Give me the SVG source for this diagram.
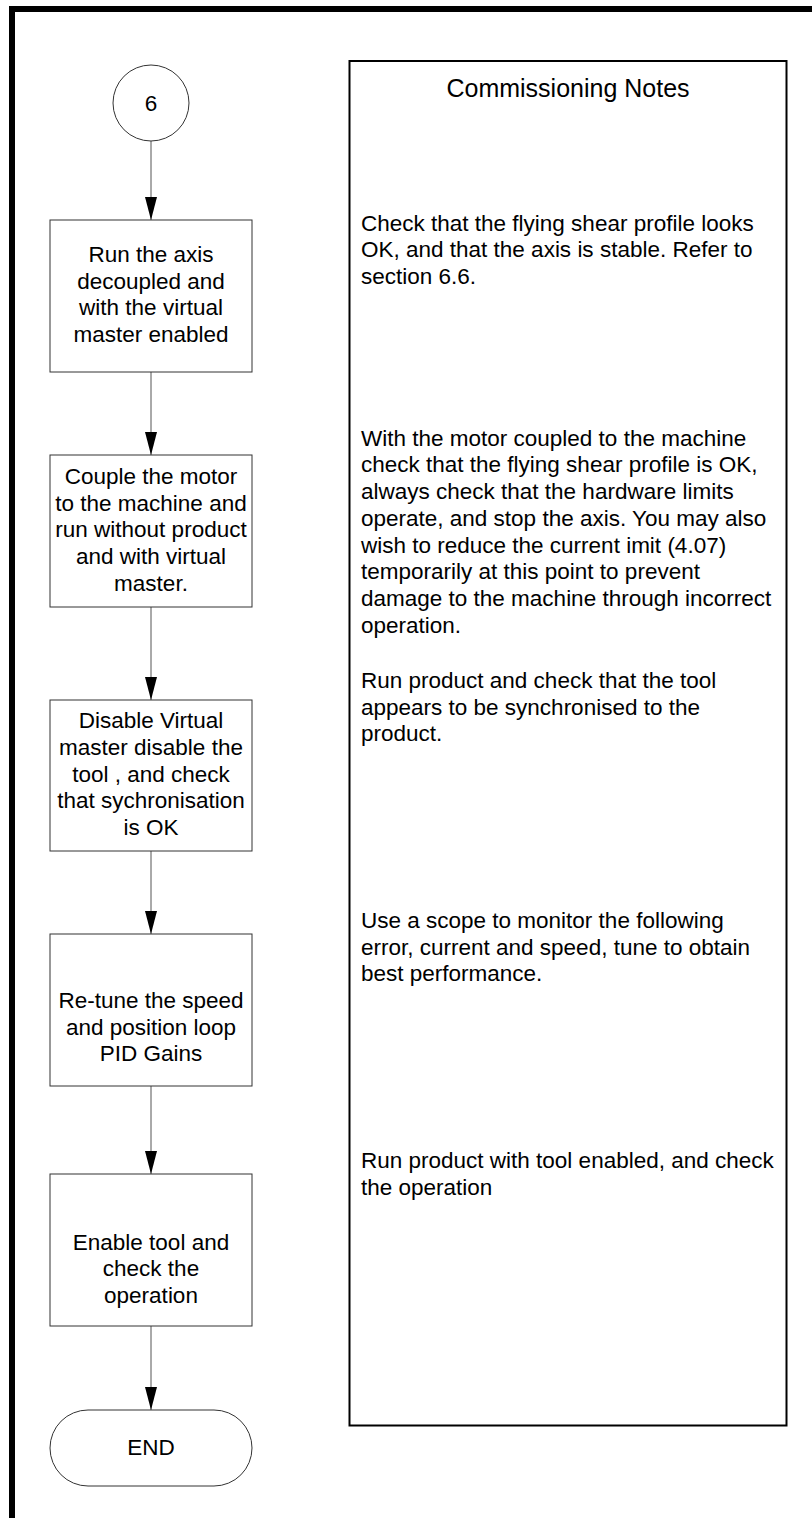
<svg xmlns="http://www.w3.org/2000/svg" width="812" height="1518" viewBox="0 0 812 1518">
<defs>
<style>
.t{font-family:"Liberation Sans",Arial,sans-serif;font-size:22.5px;fill:#000}
.c{text-anchor:middle}
.box{fill:#fff;stroke:#333;stroke-width:1}
.conn{stroke:#555;stroke-width:1;fill:none}
</style>
<marker id="ah" viewBox="0 -6 23 12" refX="23" refY="0" markerWidth="23" markerHeight="12" markerUnits="userSpaceOnUse" orient="auto">
<path d="M0,-6 L23,0 L0,6 z" fill="#000"/>
</marker>
</defs>
<rect width="812" height="1518" fill="#fff"/>
<path d="M12,1518 V9 H812" fill="none" stroke="#000" stroke-width="6"/>

<g id="connectors">
<line class="conn" x1="151" y1="141" x2="151" y2="220" marker-end="url(#ah)"/>
<line class="conn" x1="151" y1="372" x2="151" y2="455" marker-end="url(#ah)"/>
<line class="conn" x1="151" y1="607" x2="151" y2="700" marker-end="url(#ah)"/>
<line class="conn" x1="151" y1="851" x2="151" y2="934" marker-end="url(#ah)"/>
<line class="conn" x1="151" y1="1086" x2="151" y2="1174" marker-end="url(#ah)"/>
<line class="conn" x1="151" y1="1326" x2="151" y2="1410" marker-end="url(#ah)"/>
</g>

<g id="start">
<circle class="box" cx="151" cy="103" r="38"/>
<text class="t c" x="151" y="111">6</text>
</g>

<g id="step1">
<rect class="box" x="50" y="220" width="202" height="152"/>
<text class="t c" x="151" y="262.3">Run the axis</text>
<text class="t c" x="151" y="288.8">decoupled and</text>
<text class="t c" x="151" y="315.3">with the virtual</text>
<text class="t c" x="151" y="341.8">master enabled</text>
</g>

<g id="step2">
<rect class="box" x="50" y="455" width="202" height="152"/>
<text class="t c" x="151" y="483.8">Couple the motor</text>
<text class="t c" x="151" y="510.5">to the machine and</text>
<text class="t c" x="151" y="537.2">run without product</text>
<text class="t c" x="151" y="563.9">and with virtual</text>
<text class="t c" x="151" y="590.6">master.</text>
</g>

<g id="step3">
<rect class="box" x="50" y="700" width="202" height="151"/>
<text class="t c" x="151" y="728.3">Disable Virtual</text>
<text class="t c" x="151" y="755">master disable the</text>
<text class="t c" x="151" y="781.7">tool , and check</text>
<text class="t c" x="151" y="808.3">that sychronisation</text>
<text class="t c" x="151" y="835">is OK</text>
</g>

<g id="step4">
<rect class="box" x="50" y="934" width="202" height="152"/>
<text class="t c" x="151" y="1008">Re-tune the speed</text>
<text class="t c" x="151" y="1035">and position loop</text>
<text class="t c" x="151" y="1061">PID Gains</text>
</g>

<g id="step5">
<rect class="box" x="50" y="1174" width="202" height="152"/>
<text class="t c" x="151" y="1250">Enable tool and</text>
<text class="t c" x="151" y="1276">check the</text>
<text class="t c" x="151" y="1303">operation</text>
</g>

<g id="end">
<rect class="box" x="50" y="1410" width="202" height="76" rx="38" ry="38"/>
<text class="t c" x="151" y="1455">END</text>
</g>

<g id="notes">
<rect x="349.5" y="61" width="437" height="1364.5" fill="#fff" stroke="#000" stroke-width="2"/>
<text class="t c" x="568" y="97" style="font-size:25px">Commissioning Notes</text>
<text class="t" x="361" y="230.7">Check that the flying shear profile looks</text>
<text class="t" x="361" y="257.4">OK, and that the axis is stable. Refer to</text>
<text class="t" x="361" y="284">section 6.6.</text>
<text class="t" x="361" y="445.7">With the motor coupled to the machine</text>
<text class="t" x="361" y="472.4">check that the flying shear profile is OK,</text>
<text class="t" x="361" y="499.1">always check that the hardware limits</text>
<text class="t" x="361" y="525.8">operate, and stop the axis. You may also</text>
<text class="t" x="361" y="552.5">wish to reduce the current imit (4.07)</text>
<text class="t" x="361" y="579.2">temporarily at this point to prevent</text>
<text class="t" x="361" y="605.9">damage to the machine through incorrect</text>
<text class="t" x="361" y="632.6">operation.</text>
<text class="t" x="361" y="688">Run product and check that the tool</text>
<text class="t" x="361" y="714.7">appears to be synchronised to the</text>
<text class="t" x="361" y="741.4">product.</text>
<text class="t" x="361" y="928">Use a scope to monitor the following</text>
<text class="t" x="361" y="954.7">error, current and speed, tune to obtain</text>
<text class="t" x="361" y="981.4">best performance.</text>
<text class="t" x="361" y="1168">Run product with tool enabled, and check</text>
<text class="t" x="361" y="1194.7">the operation</text>
</g>
</svg>
